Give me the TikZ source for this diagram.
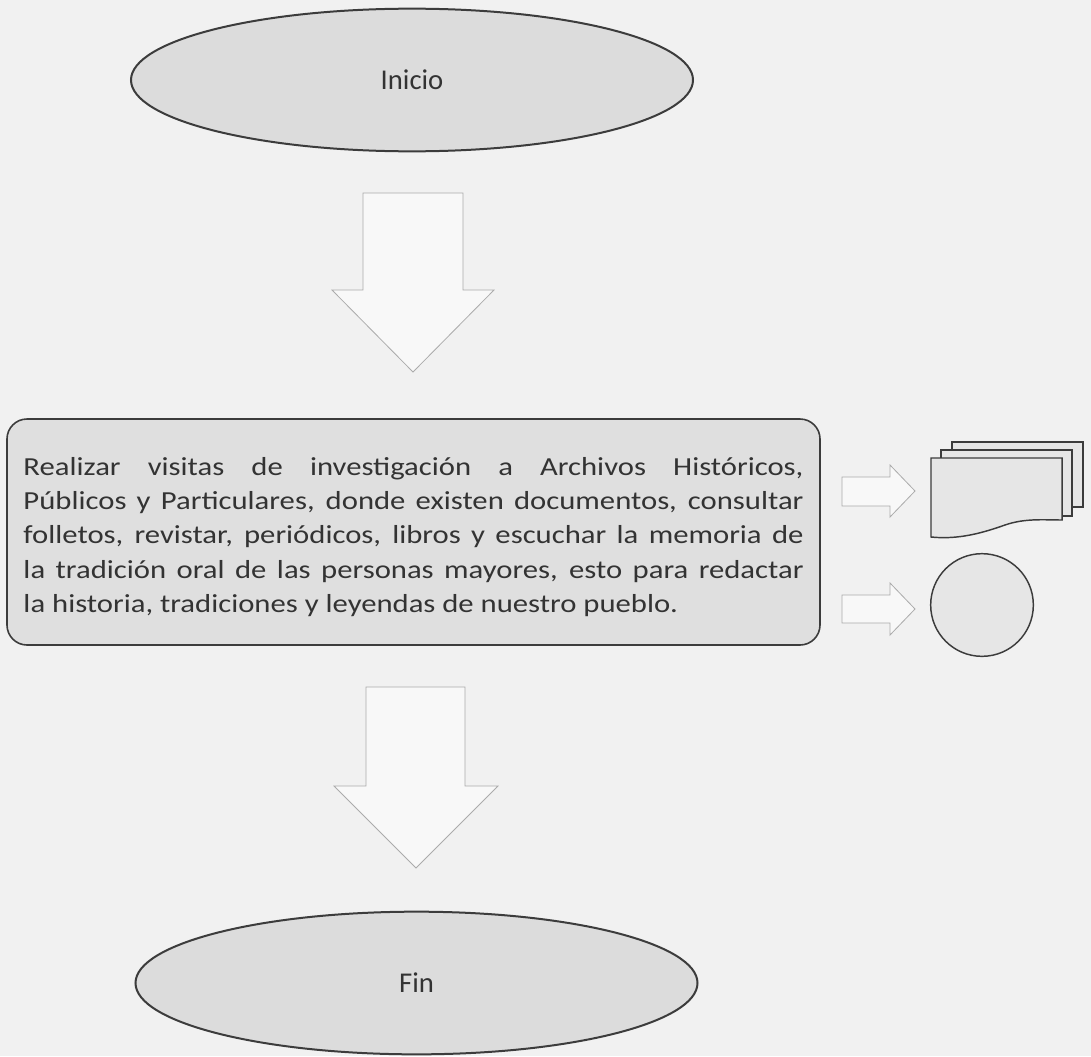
\documentclass[tikz,border=0pt]{standalone}
\usepackage{fontspec}
\setmainfont{Carlito}
\newfontfamily\boxfont[FakeStretch=1.18]{Carlito}
\usetikzlibrary{shapes.geometric}
\definecolor{bg}{HTML}{F1F1F1}
\definecolor{shapefill}{HTML}{DCDCDC}
\definecolor{boxfill}{HTML}{DFDFDF}
\definecolor{edge}{HTML}{3C3C3C}
\definecolor{txt}{HTML}{333333}
\definecolor{arrowfill}{HTML}{F8F8F8}
\definecolor{arrowedge}{HTML}{ABABAB}
\definecolor{docfill}{HTML}{E6E6E6}
\tikzset{
  term/.style={ellipse, draw=edge, fill=shapefill, line width=1.5pt,
    minimum width=421.5pt, minimum height=107pt, inner sep=0pt,
    text=txt, font=\fontsize{21.5}{26}\selectfont},
  procbox/.style={rectangle, rounded corners=15pt, draw=edge, fill=boxfill,
    line width=1.2pt, minimum width=609.75pt, minimum height=169.5pt,
    text width=585pt, align=justify, inner sep=0pt, text=txt,
    font=\boxfont\fontsize{19.5}{25.6}\selectfont},
  blockarrow/.style={draw=arrowedge, fill=arrowfill, line width=0.6pt, line join=miter},
  docsheet/.style={draw=edge, fill=docfill, line width=1.1pt, line join=miter},
  discnode/.style={circle, draw=edge, fill=docfill, line width=1.1pt,
    minimum size=77pt, inner sep=0pt}
}
\begin{document}
\begin{tikzpicture}[x=0.75pt,y=-0.75pt]
\path[fill=bg] (0,0) rectangle (1091,1056);
\useasboundingbox (0,0) rectangle (1091,1056);

% terminals
\node[term] (inicio) at (412,80) {Inicio};
\node[term] (fin) at (416.5,983) {Fin};

% process box
\node[procbox] (proc) at (413.5,532) {\tolerance=9999\hbadness=10000\relax
\rule{0pt}{21pt}Realizar visitas de investigación a Archivos Históricos,\linebreak
Públicos y Particulares, donde existen documentos, consultar\linebreak
folletos, revistar, periódicos, libros y escuchar la memoria de\linebreak
la tradición oral de las personas mayores, esto para redactar\linebreak
la historia, tradiciones y leyendas de nuestro pueblo.};

% big down arrows
\draw[blockarrow] (363,193) -- (463,193) -- (463,290) -- (494,290) -- (413,372)
  -- (332,290) -- (363,290) -- cycle;
\draw[blockarrow] (366,687) -- (465,687) -- (465,786) -- (498,786) -- (416,868)
  -- (334,786) -- (366,786) -- cycle;

% small right arrows
\draw[blockarrow] (842,477) -- (890,477) -- (890,465) -- (915,491) -- (890,517)
  -- (890,506) -- (842,506) -- cycle;
\draw[blockarrow] (842,595) -- (890,595) -- (890,583) -- (915,609) -- (890,635)
  -- (890,623) -- (842,623) -- cycle;

% multidocument
\draw[docsheet] (952,442) rectangle (1083,507);
\draw[docsheet] (941,450) rectangle (1072,516);
\draw[docsheet] (931,458) -- (1062,458) -- (1062,520)
  .. controls (1045,520) and (1025,518) .. (1005,525)
  .. controls (985,532) and (960,540) .. (931,537) -- cycle;

% circle
\node[discnode] (disc) at (982,605) {};
\end{tikzpicture}
\end{document}
